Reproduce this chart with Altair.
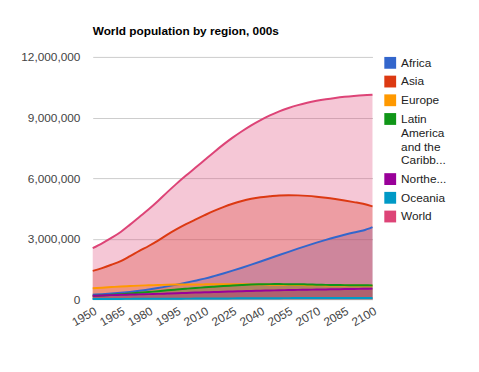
import altair as alt
import pandas as pd

years = list(range(1950, 2101, 5))

africa = [229895, 254816, 285270, 322062, 366798, 418765, 482235, 555756, 638729, 726285,
          819462, 921073, 1022234, 1145000, 1278000, 1417000, 1562000, 1713000, 1870000, 2030000,
          2191599, 2350000, 2506000, 2658000, 2804000, 2943000, 3073000, 3194000, 3305000, 3405000, 3574141]
asia = [1403389, 1541947, 1707682, 1886983, 2134993, 2393098, 2637551, 2906034, 3199481, 3468590,
        3717372, 3944661, 4164252, 4375303, 4565520, 4730605, 4867741, 4975040, 5052230, 5101157,
        5142220, 5153000, 5145000, 5120000, 5079000, 5025000, 4960000, 4887000, 4810000, 4729000, 4596224]
europe = [547287, 575000, 603881, 634000, 655866, 676000, 692435, 706000, 720778, 727000,
          726568, 729000, 738199, 742000, 744000, 744177, 741000, 736000, 730000, 723000,
          719257, 712000, 704000, 697000, 691000, 686000, 682000, 679000, 677000, 676000, 674796]
latam = [167368, 191000, 220190, 253000, 286473, 323000, 362327, 402000, 443032, 483000,
         521280, 557000, 590082, 623000, 654000, 681000, 706000, 726000, 741000, 750000,
         750956, 748000, 743000, 735000, 722000, 713000, 706000, 700000, 695000, 691000, 687517]
namerica = [171615, 186000, 204325, 219000, 231284, 242000, 254433, 267000, 281498, 299000,
            315417, 330000, 344529, 358000, 372000, 386000, 399000, 411000, 423000, 435000,
            446864, 456000, 465000, 473000, 481000, 489000, 497000, 504000, 511000, 519000, 526428]
oceania = [12807, 14200, 15880, 17600, 19681, 21500, 22970, 24800, 26969, 29000,
           31160, 33500, 36593, 39000, 41500, 44000, 46500, 48900, 51200, 53400,
           55233, 57000, 58600, 60000, 61200, 62300, 63300, 64200, 65000, 65800, 66414]
world = [2532229, 2772882, 3038413, 3333007, 3696186, 4076419, 4453007, 4863290, 5306425, 5726239,
         6122770, 6506649, 6895889, 7284296, 7656528, 8002978, 8321380, 8611867, 8874041, 9106022,
         9306128, 9472035, 9615107, 9732604, 9827609, 9905111, 9969806, 10023785, 10067983, 10103469, 10124926]

regions = ["Africa", "Asia", "Europe", "Latin America and the Caribbean",
           "Northern America", "Oceania", "World"]
colors = ["#3366cc", "#dc3912", "#ff9900", "#109618", "#990099", "#0099c6", "#dd4477"]
series = [africa, asia, europe, latam, namerica, oceania, world]

x_ticks = list(range(1950, 2101, 15))
y_ticks = [0, 3000000, 6000000, 9000000, 12000000]

rows = []
for i, (name, vals) in enumerate(zip(regions, series)):
    for yr, v in zip(years, vals):
        rows.append({"year": yr, "region": name, "pop": v, "order": i})
df = pd.DataFrame(rows)

FONT = "Arial"

x = alt.X("year:Q",
          scale=alt.Scale(domain=[1950, 2100], nice=False, zero=False),
          axis=alt.Axis(values=x_ticks, format="d", labelAngle=-30, labelAlign="right",
                        labelBaseline="top", grid=False, ticks=False, domain=False,
                        labelFontSize=12, labelColor="#444444", labelFont=FONT,
                        labelPadding=6, title=None, labelOverlap=False))


def y_enc(field):
    return alt.Y(field,
                 scale=alt.Scale(domain=[0, 12000000], nice=False),
                 stack=None,
                 axis=alt.Axis(values=y_ticks, labelExpr="format(datum.value, ',')",
                               grid=True, gridColor="#cccccc",
                               ticks=False, domain=False, labelFontSize=12,
                               labelColor="#444444", labelFont=FONT, labelPadding=13,
                               title=None))


label_expr = ("datum.label == 'Latin America and the Caribbean' ? "
              "['Latin', 'America', 'and the', 'Caribb...'] : "
              "(datum.label == 'Northern America' ? 'Northe...' : datum.label)")

color = alt.Color("region:N",
                  scale=alt.Scale(domain=regions, range=colors),
                  sort=regions,
                  legend=alt.Legend(title=None, orient="none", legendX=296, legendY=0,
                                    symbolType="square", symbolSize=144, symbolStrokeWidth=0,
                                    symbolOpacity=1, labelFontSize=12, labelFont=FONT,
                                    labelColor="#222222", labelOffset=5, rowPadding=7,
                                    labelExpr=label_expr, labelLimit=200))

base = alt.Chart(df).encode(x=x, y=y_enc("pop:Q"), color=color, order=alt.Order("order:Q"))

area = base.mark_area(opacity=0.3, interpolate="monotone")
line = base.mark_line(strokeWidth=2, interpolate="monotone")
baseline = alt.Chart(pd.DataFrame({"v": [0]})).mark_rule(color="#999999", strokeWidth=1).encode(
    y=y_enc("v:Q"))

chart = alt.layer(area, baseline, line).properties(
    width=284, height=246,
    title=alt.TitleParams("World population by region, 000s", anchor="start", frame="group",
                          fontSize=12, fontWeight="bold", font=FONT, color="#000000",
                          offset=13),
    autosize=alt.AutoSizeParams(type="none"),
    padding={"left": 86, "top": 47, "right": 100, "bottom": 60},
).configure_view(stroke=None)

chart.save("out.html", embed_options={"renderer": "svg", "actions": False})
